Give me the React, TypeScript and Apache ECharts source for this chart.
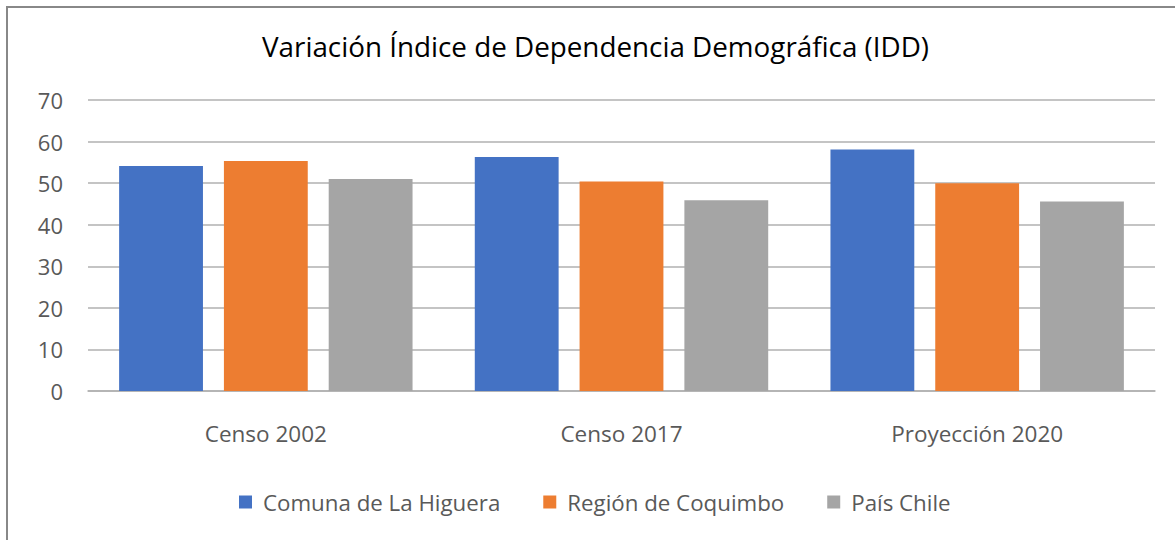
import React, { useEffect, useRef } from "react";
import * as echarts from "echarts";

const categories = ["Censo 2002", "Censo 2017", "Proyección 2020"];
const seriesNames = ["Comuna de La Higuera", "Región de Coquimbo", "País Chile"];
const higuera = [54.1, 56.3, 58.1];
const coquimbo = [55.3, 50.4, 50.0];
const chile = [51.0, 45.9, 45.6];
const colors = ["#4472C4", "#ED7D31", "#A5A5A5"];
const titleText = "Variación Índice de Dependencia Demográfica (IDD)";

export default function App() {
  const ref = useRef<HTMLDivElement>(null);
  useEffect(() => {
    if (!ref.current) return;
    const chart = echarts.init(ref.current, null, { renderer: "svg" });
    const font = "'Open Sans', 'Noto Sans', sans-serif";
    const data = [higuera, coquimbo, chile];
    chart.setOption({
      animation: false,
      backgroundColor: "#ffffff",
      textStyle: { fontFamily: font },
      title: {
        text: titleText,
        left: 257,
        top: 27,
        textStyle: { fontFamily: font, fontSize: 27.8, fontWeight: "normal", color: "#000000" },
      },
      graphic: [
        {
          type: "rect",
          shape: { x: 7, y: 7, width: 1200, height: 600 },
          style: { fill: "none", stroke: "#888888", lineWidth: 2 },
          z: 100,
        },
      ],
      legend: {
        bottom: 22,
        left: 234,
        itemWidth: 13,
        itemHeight: 13,
        itemGap: 43,
        icon: "rect",
        textStyle: { fontFamily: font, fontSize: 22.3, color: "#595959", padding: [0, 0, 0, 6] },
        data: seriesNames,
      },
      grid: { left: 88, right: 20, top: 100, bottom: 149, containLabel: false },
      xAxis: {
        type: "category",
        data: categories,
        axisTick: { show: false },
        axisLine: { lineStyle: { color: "#b0b0b0", width: 1.5 } },
        axisLabel: { fontFamily: font, fontSize: 22.5, color: "#595959", margin: 31 },
      },
      yAxis: {
        type: "value",
        min: 0,
        max: 70,
        interval: 10,
        axisLine: { show: false },
        axisTick: { show: false },
        splitLine: { lineStyle: { color: "#b0b0b0", width: 1.5 } },
        axisLabel: { fontFamily: font, fontSize: 22, color: "#595959", margin: 25 },
      },
      series: seriesNames.map((name, i) => ({
        name,
        type: "bar",
        data: data[i],
        barGap: "25%",
        barCategoryGap: "17.5%",
        itemStyle: { color: colors[i] },
      })),
    });
    return () => chart.dispose();
  }, []);
  return (
    <div
      ref={ref}
      style={{ position: "fixed", left: 0, top: 0, width: 1175, height: 540 }}
    />
  );
}
